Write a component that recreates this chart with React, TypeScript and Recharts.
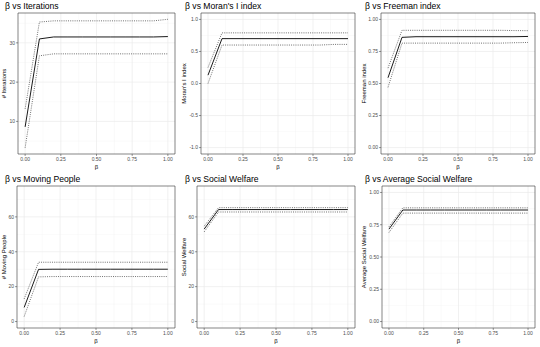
import React from 'react'
import { LineChart, Line, XAxis, YAxis, CartesianGrid, ReferenceArea } from 'recharts'

const BETA = [0, 0.1, 0.2, 0.3, 0.4, 0.5, 0.6, 0.7, 0.8, 0.9, 1.0]
const X_TICKS = [0, 0.25, 0.5, 0.75, 1]
const X_MINOR = [0.125, 0.375, 0.625, 0.875]

const ITER_MEAN = [8.6, 31.0, 31.5, 31.5, 31.5, 31.5, 31.5, 31.5, 31.5, 31.5, 31.6]
const ITER_HI = [13.2, 35.3, 35.6, 35.6, 35.6, 35.6, 35.6, 35.6, 35.6, 35.6, 36.0]
const ITER_LO = [3.3, 26.7, 27.2, 27.2, 27.2, 27.2, 27.2, 27.2, 27.2, 27.2, 27.2]

const MORAN_MEAN = [0.13, 0.7, 0.7, 0.7, 0.7, 0.7, 0.7, 0.7, 0.7, 0.7, 0.7]
const MORAN_HI = [0.25, 0.79, 0.79, 0.79, 0.79, 0.79, 0.79, 0.79, 0.79, 0.79, 0.79]
const MORAN_LO = [0.0, 0.6, 0.6, 0.6, 0.6, 0.6, 0.6, 0.6, 0.6, 0.61, 0.61]

const FREEMAN_MEAN = [0.545, 0.86, 0.865, 0.865, 0.865, 0.865, 0.865, 0.865, 0.865, 0.865, 0.867]
const FREEMAN_HI = [0.62, 0.915, 0.915, 0.915, 0.915, 0.915, 0.915, 0.915, 0.915, 0.913, 0.912]
const FREEMAN_LO = [0.47, 0.815, 0.815, 0.815, 0.815, 0.815, 0.815, 0.815, 0.815, 0.818, 0.82]

const MOVING_MEAN = [8.1, 29.9, 30, 30, 30, 30, 30, 30, 30, 30, 30]
const MOVING_HI = [13, 34, 34, 34, 34, 34, 34, 34, 34, 34, 34]
const MOVING_LO = [2.9, 25.6, 25.8, 25.8, 25.8, 25.8, 25.8, 25.8, 25.8, 25.8, 25.8]

const WELFARE_MEAN = [53, 64.2, 64.2, 64.2, 64.2, 64.2, 64.2, 64.2, 64.2, 64.2, 64.2]
const WELFARE_HI = [54.7, 65.3, 65.3, 65.3, 65.3, 65.3, 65.3, 65.3, 65.3, 65.3, 65.3]
const WELFARE_LO = [51.4, 62.8, 62.8, 62.8, 62.8, 62.8, 62.8, 62.8, 62.8, 62.8, 62.8]

const AVG_MEAN = [0.716, 0.864, 0.864, 0.864, 0.864, 0.864, 0.864, 0.864, 0.864, 0.864, 0.864]
const AVG_HI = [0.734, 0.881, 0.881, 0.881, 0.881, 0.881, 0.881, 0.881, 0.881, 0.881, 0.881]
const AVG_LO = [0.69, 0.84, 0.84, 0.84, 0.84, 0.84, 0.84, 0.84, 0.84, 0.84, 0.84]

const FONT = '"Liberation Sans", Arial, sans-serif'

interface PanelProps {
  title: string
  yLabel: string
  mean: number[]
  hi: number[]
  lo: number[]
  domain: [number, number]
  ticks: number[]
  minor: number[]
  digits: number
  yWidth: number
  left: number
  top: number
  height: number
}

function Panel(p: PanelProps) {
  const data = BETA.map((b, i) => ({ beta: b, mean: p.mean[i], hi: p.hi[i], lo: p.lo[i] }))
  const tickStyle = { fontSize: 5, fill: '#4d4d4d', fontFamily: FONT }
  return (
    <div style={{ position: 'absolute', left: p.left, top: p.top, width: 180, height: p.height }}>
      <div style={{ position: 'absolute', left: 5, top: 1, fontSize: 8.6, fontFamily: FONT, color: '#000', whiteSpace: 'nowrap' }}>
        {p.title}
      </div>
      <LineChart width={180} height={p.height} data={data} margin={{ top: 13, right: 5, bottom: 3, left: 0 }}>
        <CartesianGrid stroke="#f2f2f2" strokeWidth={0.4} horizontalValues={p.minor} verticalValues={X_MINOR} />
        <CartesianGrid stroke="#ebebeb" strokeWidth={0.7} horizontalValues={p.ticks} verticalValues={X_TICKS} />
        <XAxis
          dataKey="beta"
          type="number"
          domain={[-0.05, 1.05]}
          allowDataOverflow
          ticks={X_TICKS}
          tickFormatter={(v: number) => v.toFixed(2)}
          tick={tickStyle}
          axisLine={false}
          tickLine={{ stroke: '#333', strokeWidth: 0.5 }}
          tickSize={2}
          tickMargin={1}
          height={16}
          interval={0}
          label={{ value: 'β', position: 'insideBottom', offset: 1, fontSize: 6, fill: '#000', fontFamily: FONT }}
        />
        <YAxis
          type="number"
          domain={p.domain}
          allowDataOverflow
          ticks={p.ticks}
          tickFormatter={(v: number) => v.toFixed(p.digits)}
          tick={tickStyle}
          axisLine={false}
          tickLine={{ stroke: '#333', strokeWidth: 0.5 }}
          tickSize={2}
          tickMargin={1}
          width={p.yWidth}
          interval={0}
          label={{
            value: p.yLabel,
            angle: -90,
            position: 'insideLeft',
            offset: 4,
            fontSize: 6,
            fill: '#000',
            fontFamily: FONT,
            style: { textAnchor: 'middle' },
          }}
        />
        <ReferenceArea x1={-0.05} x2={1.05} y1={p.domain[0]} y2={p.domain[1]} fill="none" stroke="#333" strokeWidth={0.6} />
        <Line dataKey="hi" stroke="#333" strokeWidth={0.7} strokeDasharray="1 1.2" dot={false} isAnimationActive={false} />
        <Line dataKey="lo" stroke="#333" strokeWidth={0.7} strokeDasharray="1 1.2" dot={false} isAnimationActive={false} />
        <Line dataKey="mean" stroke="#000" strokeWidth={0.9} dot={false} isAnimationActive={false} />
      </LineChart>
    </div>
  )
}

export default function App() {
  return (
    <div style={{ position: 'absolute', left: 0, top: 0, width: 540, height: 347, background: '#fff' }}>
      <Panel title="β vs Iterations" yLabel="# Iterations" mean={ITER_MEAN} hi={ITER_HI} lo={ITER_LO}
        domain={[1.7, 37.6]} ticks={[10, 20, 30]} minor={[5, 15, 25, 35]} digits={0} yWidth={18}
        left={0} top={0} height={173} />
      <Panel title="β vs Moran's I index" yLabel="Moran's I index" mean={MORAN_MEAN} hi={MORAN_HI} lo={MORAN_LO}
        domain={[-1.1, 1.1]} ticks={[-1, -0.5, 0, 0.5, 1]} minor={[-0.75, -0.25, 0.25, 0.75]} digits={1} yWidth={21}
        left={180} top={0} height={173} />
      <Panel title="β vs Freeman index" yLabel="Freeman index" mean={FREEMAN_MEAN} hi={FREEMAN_HI} lo={FREEMAN_LO}
        domain={[-0.05, 1.05]} ticks={[0, 0.25, 0.5, 0.75, 1]} minor={[0.125, 0.375, 0.625, 0.875]} digits={2} yWidth={21}
        left={360} top={0} height={173} />
      <Panel title="β vs Moving People" yLabel="# Moving People" mean={MOVING_MEAN} hi={MOVING_HI} lo={MOVING_LO}
        domain={[-3.7, 77.7]} ticks={[0, 20, 40, 60]} minor={[10, 30, 50, 70]} digits={0} yWidth={17}
        left={0} top={173} height={174} />
      <Panel title="β vs Social Welfare" yLabel="Social Welfare" mean={WELFARE_MEAN} hi={WELFARE_HI} lo={WELFARE_LO}
        domain={[-3.7, 77.7]} ticks={[0, 20, 40, 60]} minor={[10, 30, 50, 70]} digits={0} yWidth={17}
        left={180} top={173} height={174} />
      <Panel title="β vs Average Social Welfare" yLabel="Average Social Welfare" mean={AVG_MEAN} hi={AVG_HI} lo={AVG_LO}
        domain={[-0.05, 1.05]} ticks={[0, 0.25, 0.5, 0.75, 1]} minor={[0.125, 0.375, 0.625, 0.875]} digits={2} yWidth={22}
        left={360} top={173} height={174} />
    </div>
  )
}
